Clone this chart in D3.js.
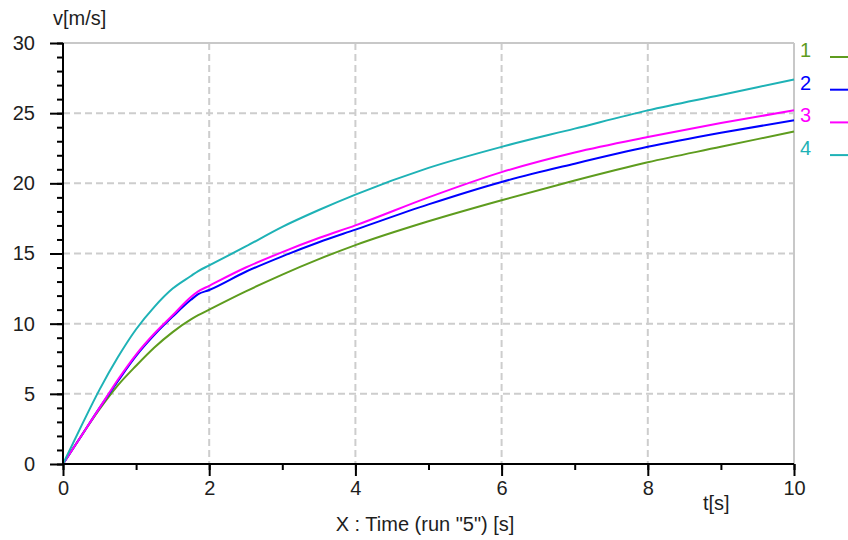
<!DOCTYPE html>
<html>
<head>
<meta charset="utf-8">
<script src="https://cdn.jsdelivr.net/npm/d3@7"></script>
<style>
  body { margin: 0; background: #fff; }
  svg text { font-family: "Liberation Sans", Arial, sans-serif; }
</style>
</head>
<body>
<svg id="chart" width="848" height="540"></svg>
<script>
// DATA
const times   = [0, 0.25, 0.5, 0.75, 1, 1.25, 1.5, 1.75, 1.85, 2, 2.5, 3, 3.5, 4, 5, 6, 7, 8, 9, 10];
const run1    = [0, 2.0, 3.9, 5.6, 7.0, 8.3, 9.4, 10.3, 10.6, 11.0, 12.3, 13.5, 14.6, 15.6, 17.3, 18.8, 20.2, 21.5, 22.6, 23.7];
const run2    = [0, 2.0, 4.0, 5.9, 7.7, 9.2, 10.5, 11.7, 12.1, 12.4, 13.7, 14.8, 15.8, 16.7, 18.5, 20.1, 21.4, 22.6, 23.6, 24.5];
const run3    = [0, 2.0, 4.0, 6.0, 7.8, 9.3, 10.6, 11.9, 12.3, 12.7, 14.0, 15.1, 16.1, 17.0, 19.0, 20.8, 22.2, 23.3, 24.3, 25.2];
const run4    = [0, 2.7, 5.3, 7.6, 9.6, 11.2, 12.5, 13.4, 13.75, 14.15, 15.5, 16.9, 18.1, 19.2, 21.1, 22.6, 23.9, 25.2, 26.3, 27.4];
const seriesNames  = ["1", "2", "3", "4"];
const seriesValues = [run1, run2, run3, run4];
const seriesColors = ["#5e9c1e", "#0000ff", "#ff00ff", "#1eb2b6"];
const xMajorTicks = [0, 2, 4, 6, 8, 10];
const yMajorTicks = [0, 5, 10, 15, 20, 25, 30];

// LAYOUT
const _plot = {left: 63, right: 794, top: 43, bottom: 464};
const _color = {axis: "#000", frame: "#c8c8c8", grid: "#cdcdcd", text: "#1e1e1e"};

let svg = d3.select("#chart");
let x = d3.scaleLinear().domain([0, 10]).range([_plot.left, _plot.right]);
let y = d3.scaleLinear().domain([0, 30]).range([_plot.bottom, _plot.top]);

// GRID
let grid = svg.append("g").attr("class", "grid");
grid.selectAll("line.gy")
    .data(yMajorTicks.filter(d => d > 0 && d < 30))
    .enter().append("line")
      .attr("x1", _plot.left).attr("x2", _plot.right)
      .attr("y1", d => y(d)).attr("y2", d => y(d))
      .attr("stroke", _color.grid)
      .attr("stroke-width", 2)
      .attr("stroke-dasharray", "7,4");
grid.selectAll("line.gx")
    .data(xMajorTicks.filter(d => d > 0 && d < 10))
    .enter().append("line")
      .attr("x1", d => x(d)).attr("x2", d => x(d))
      .attr("y1", _plot.top).attr("y2", _plot.bottom)
      .attr("stroke", _color.grid)
      .attr("stroke-width", 2)
      .attr("stroke-dasharray", "7,4");
// frame top / right
svg.append("line")
    .attr("x1", _plot.left).attr("x2", _plot.right)
    .attr("y1", y(30)).attr("y2", y(30))
    .attr("stroke", _color.frame).attr("stroke-width", 2);
svg.append("line")
    .attr("x1", x(10)).attr("x2", x(10))
    .attr("y1", _plot.top).attr("y2", _plot.bottom)
    .attr("stroke", _color.frame).attr("stroke-width", 2);

// CURVES
let line = d3.line()
    .x((d, i) => x(times[i]))
    .y(d => y(d))
    .curve(d3.curveMonotoneX);
svg.append("g").selectAll("path")
    .data(seriesValues)
    .enter().append("path")
      .attr("d", d => line(d))
      .attr("fill", "none")
      .attr("stroke", (d, i) => seriesColors[i])
      .attr("stroke-width", 2);

// AXES
function styleAxis(g){
  g.select(".domain").remove();
  g.selectAll(".tick line").attr("stroke", _color.axis).attr("stroke-width", 2);
  g.selectAll(".tick text").attr("fill", _color.text).attr("font-size", "20px");
}
svg.append("g")
    .attr("transform", `translate(${_plot.left},0)`)
    .call(d3.axisLeft(y).ticks(30).tickSize(6).tickFormat(""))
    .call(styleAxis);
svg.append("g")
    .attr("transform", `translate(${_plot.left},0)`)
    .call(d3.axisLeft(y).tickValues(yMajorTicks).tickSize(13).tickPadding(15))
    .call(styleAxis);
svg.append("g")
    .attr("transform", `translate(0,${_plot.bottom})`)
    .call(d3.axisBottom(x).ticks(10).tickSize(6).tickFormat(""))
    .call(styleAxis);
svg.append("g")
    .attr("transform", `translate(0,${_plot.bottom})`)
    .call(d3.axisBottom(x).tickValues(xMajorTicks).tickSize(12).tickPadding(5))
    .call(styleAxis);
// axis lines
svg.append("line")
    .attr("x1", _plot.left).attr("x2", _plot.left)
    .attr("y1", _plot.top).attr("y2", _plot.bottom + 1)
    .attr("stroke", _color.axis).attr("stroke-width", 2);
svg.append("line")
    .attr("x1", _plot.left - 1).attr("x2", _plot.right)
    .attr("y1", _plot.bottom).attr("y2", _plot.bottom)
    .attr("stroke", _color.axis).attr("stroke-width", 2);

// LABELS
svg.append("text")
    .attr("x", 53).attr("y", 25)
    .attr("font-size", "20px").attr("fill", _color.text)
    .text("v[m/s]");
svg.append("text")
    .attr("x", 703).attr("y", 510)
    .attr("font-size", "20px").attr("fill", _color.text)
    .text("t[s]");
svg.append("text")
    .attr("x", 425).attr("y", 531)
    .attr("text-anchor", "middle")
    .attr("font-size", "20px").attr("fill", _color.text)
    .text('X : Time (run "5") [s]');

// LEGEND
let legend = svg.append("g").attr("class", "legend");
legend.selectAll("text")
    .data(seriesNames)
    .enter().append("text")
      .attr("x", 800)
      .attr("y", (d, i) => 57 + i * 32.7)
      .attr("font-size", "20px")
      .attr("fill", (d, i) => seriesColors[i])
      .text(d => d);
legend.selectAll("line")
    .data(seriesNames)
    .enter().append("line")
      .attr("x1", 830).attr("x2", 848)
      .attr("y1", (d, i) => 57 + i * 32.7)
      .attr("y2", (d, i) => 57 + i * 32.7)
      .attr("stroke", (d, i) => seriesColors[i])
      .attr("stroke-width", 2);
</script>
</body>
</html>
